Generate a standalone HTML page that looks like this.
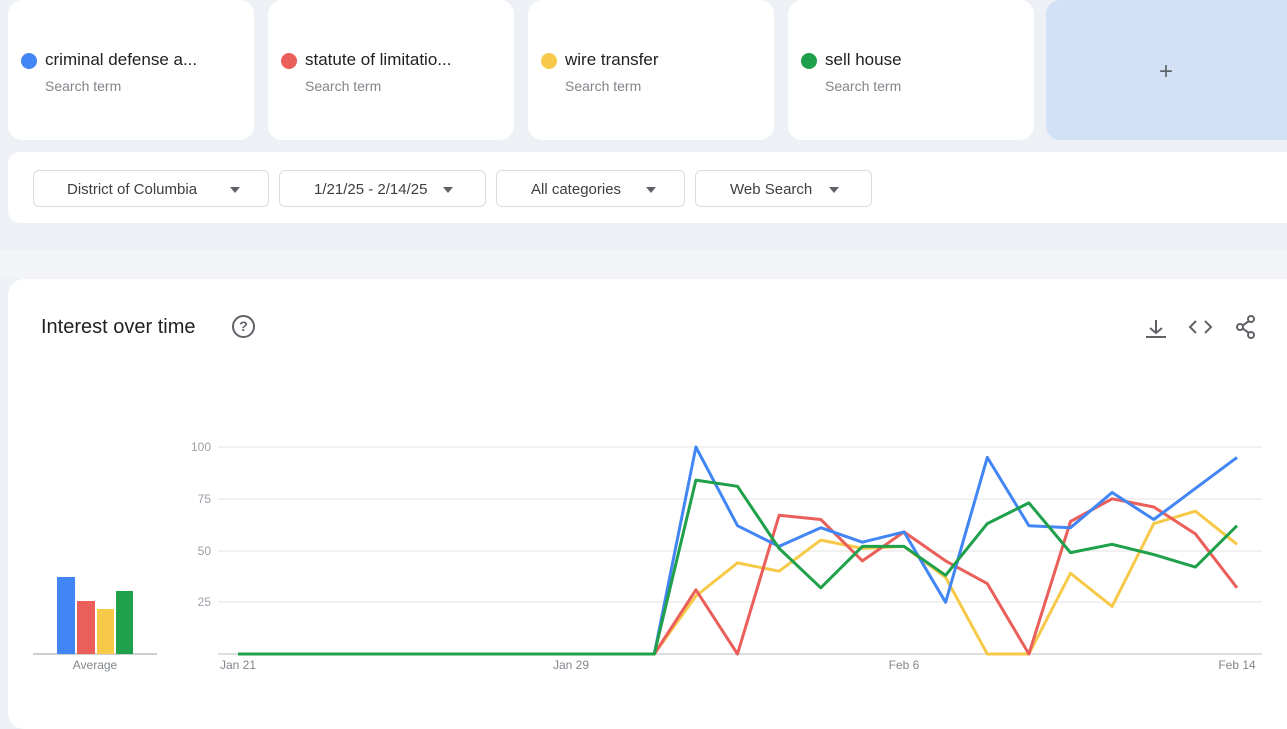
<!DOCTYPE html>
<html><head><meta charset="utf-8"><style>
body{margin:0;width:1287px;height:705px;background:#edf0f5;font-family:"Liberation Sans",sans-serif;position:relative;overflow:hidden}
.card{position:absolute;background:#fff;border-radius:14px}
.term{top:0;height:140px;width:246px}
.dot{position:absolute;left:13px;top:53px;width:16px;height:16px;border-radius:50%}
.t1{position:absolute;left:37px;top:50px;font-size:17px;color:#202124}
.t2{position:absolute;left:37px;top:78px;font-size:14px;color:#80868b}
.btn{position:absolute;top:170px;height:37px;border:1px solid #dadce0;border-radius:6px;background:#fff;font-size:15px;color:#3c4043;line-height:37px;box-sizing:border-box}
.btn span{position:absolute;top:0}
.tri{position:absolute;top:16px;width:0;height:0;border-left:5px solid transparent;border-right:5px solid transparent;border-top:6px solid #5f6368}
</style></head><body>
<div class="card term" style="left:8px"><div class="dot" style="background:#4285f4"></div><div class="t1">criminal defense a...</div><div class="t2">Search term</div></div>
<div class="card term" style="left:268px"><div class="dot" style="background:#ea5f5a"></div><div class="t1">statute of limitatio...</div><div class="t2">Search term</div></div>
<div class="card term" style="left:528px"><div class="dot" style="background:#f7c948"></div><div class="t1">wire transfer</div><div class="t2">Search term</div></div>
<div class="card term" style="left:788px"><div class="dot" style="background:#1fa04a"></div><div class="t1">sell house</div><div class="t2">Search term</div></div>
<div class="card" style="left:1046px;top:0;width:260px;height:140px;background:#d3e1f7"><div style="position:absolute;left:113px;top:58px;font-size:24px;color:#5f6368">+</div></div>
<div class="card" style="left:8px;top:152px;width:1300px;height:71px;border-radius:12px"></div>
<div class="btn" style="left:33px;width:236px"><span style="left:33px">District of Columbia</span><div class="tri" style="left:196px"></div></div>
<div class="btn" style="left:279px;width:207px"><span style="left:34px">1/21/25 - 2/14/25</span><div class="tri" style="left:163px"></div></div>
<div class="btn" style="left:496px;width:189px"><span style="left:34px">All categories</span><div class="tri" style="left:149px"></div></div>
<div class="btn" style="left:695px;width:177px"><span style="left:34px">Web Search</span><div class="tri" style="left:133px"></div></div>
<div style="position:absolute;left:0;top:250px;width:1287px;height:29px;background:#f2f4f8"></div>
<div class="card" style="left:8px;top:279px;width:1300px;height:450px;border-radius:16px"></div>
<div style="position:absolute;left:41px;top:316px;font-size:20px;color:#202124">Interest over time</div>
<div style="position:absolute;left:232px;top:315px;width:19px;height:19px;border:2px solid #5f6368;border-radius:50%;font-size:14px;font-weight:bold;color:#5f6368;text-align:center;line-height:19px">?</div>
<svg style="position:absolute;left:0;top:0" width="1287" height="705">
<g stroke="#5f6368" stroke-width="2" fill="none">
<path d="M1156 320v13M1150 328l6 5 6-5M1146 337h20"/>
<path d="M1196 321l-6 6 6 6M1205 321l6 6-6 6"/>
<circle cx="1251" cy="319" r="3"/><circle cx="1240" cy="327" r="3"/><circle cx="1251" cy="335" r="3"/><path d="M1242 326l7-5M1242 328l7 5"/>
</g>
<g stroke="#e3e3e3" stroke-width="1">
<line x1="218" y1="447" x2="1262" y2="447"/><line x1="218" y1="499" x2="1262" y2="499"/><line x1="218" y1="551" x2="1262" y2="551"/><line x1="218" y1="602" x2="1262" y2="602"/>
</g>
<line x1="218" y1="654" x2="1262" y2="654" stroke="#bdbdbd"/>
<line x1="33" y1="654" x2="157" y2="654" stroke="#9e9e9e"/>
<g font-size="12" fill="#9aa0a6" text-anchor="end">
<text x="211" y="451">100</text><text x="211" y="503">75</text><text x="211" y="555">50</text><text x="211" y="606">25</text>
</g>
<g font-size="12" fill="#80868b" text-anchor="middle">
<text x="238" y="669">Jan 21</text><text x="571" y="669">Jan 29</text><text x="904" y="669">Feb 6</text><text x="1237" y="669">Feb 14</text><text x="95" y="669">Average</text>
</g>
<rect x="57" y="577" width="18" height="77" fill="#4285f4"/>
<rect x="77" y="601" width="18" height="53" fill="#ea5f5a"/>
<rect x="97" y="609" width="17" height="45" fill="#f7c948"/>
<rect x="116" y="591" width="17" height="63" fill="#1fa04a"/>
<g id="lines" fill="none" stroke-width="3" stroke-linejoin="round"></g>
</svg>
<script>
var z=[0,0,0,0,0,0,0,0,0,0,0];
var S=[["#f7c948",z.concat([28,44,40,55,51,52,37,0,0,39,23,63,69,53])],
["#ea5f5a",z.concat([31,0,67,65,45,59,45,34,0,64,75,71,58,32])],
["#4285f4",z.concat([100,62,52,61,54,59,25,95,62,61,78,65,80,95])],
["#1fa04a",z.concat([84,81,51,32,52,52,38,63,73,49,53,48,42,62])]];
var g=document.getElementById('lines'),h='';
S.forEach(function(s){var p=s[1].map(function(v,i){return (238+41.625*i).toFixed(1)+','+(654-2.07*v).toFixed(1)}).join(' ');h+='<polyline stroke="'+s[0]+'" points="'+p+'"/>';});
g.innerHTML=h;
</script>
</body></html>
